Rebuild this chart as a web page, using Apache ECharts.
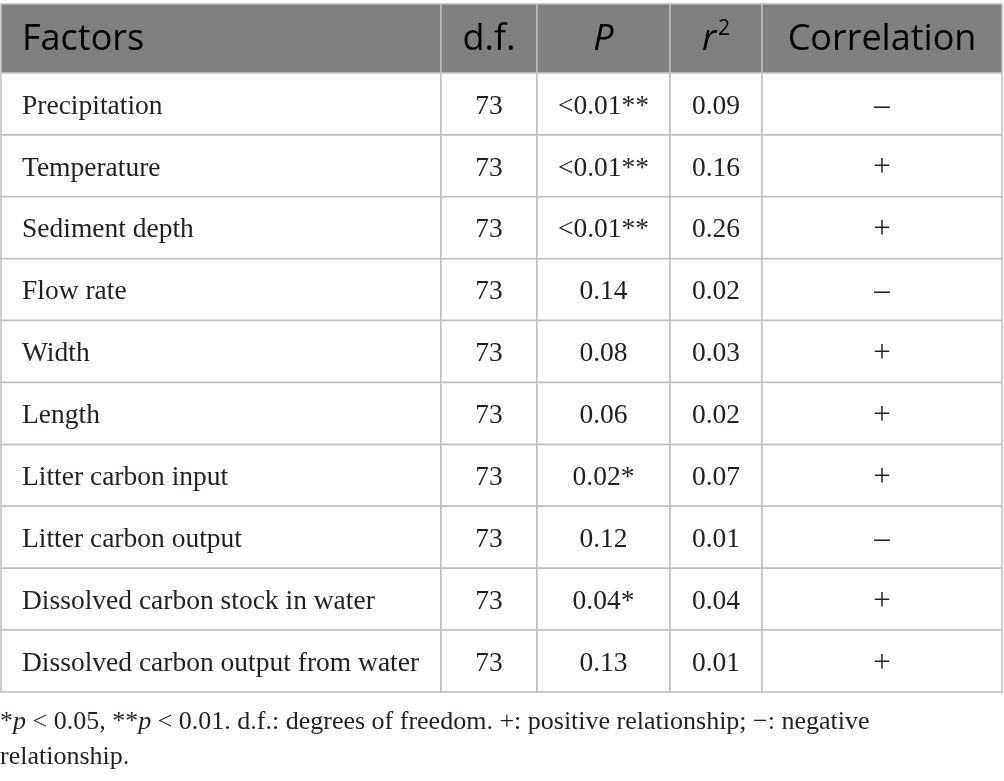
<!DOCTYPE html>
<html>
<head>
<meta charset="utf-8">
<script src="https://cdn.jsdelivr.net/npm/echarts@6/dist/echarts.min.js"></script>
<style>
  html, body { margin: 0; padding: 0; background: #fff; }
  #chart { width: 1004px; height: 781px; }
</style>
</head>
<body>
<div id="chart"></div>
<script>
// table data
const headers = ['Factors', 'd.f.', 'P', 'r2', 'Correlation']
const factors = [
  'Precipitation', 'Temperature', 'Sediment depth', 'Flow rate', 'Width',
  'Length', 'Litter carbon input', 'Litter carbon output',
  'Dissolved carbon stock in water', 'Dissolved carbon output from water'
]
const dfValues = [73, 73, 73, 73, 73, 73, 73, 73, 73, 73]
const pValues = ['<0.01**', '<0.01**', '<0.01**', '0.14', '0.08', '0.06', '0.02*', '0.12', '0.04*', '0.13']
const r2Values = [0.09, 0.16, 0.26, 0.02, 0.03, 0.02, 0.07, 0.01, 0.04, 0.01]
const correlation = ['–', '+', '+', '–', '+', '+', '+', '–', '+', '+']

// column boundaries along the x axis
const colEdges = [0, 440, 536, 669, 761, 1001]

const LINE = '#bfbfbf'
const HEAD_BG = '#808080'
const INK = '#231f20'
const SERIF = '"Liberation Serif", "DejaVu Serif", serif'
const SANS = '"Open Sans", Lato, sans-serif'

function cellText(c, r) {
  if (c === 0) return factors[r]
  if (c === 1) return String(dfValues[r])
  if (c === 2) return pValues[r]
  if (c === 3) return r2Values[r].toFixed(2)
  return correlation[r]
}

function headText(c) {
  if (c === 2) return '{i|P}'
  if (c === 3) return '{i|r}{s|2}'
  return '{n|' + headers[c] + '}'
}

function cellRect(api, c, r) {
  const x0 = api.coord([colEdges[c], r])[0]
  const x1 = api.coord([colEdges[c + 1], r])[0]
  const cy = api.coord([0, r])[1]
  const h = api.size([0, 1])[1]
  return { x0, x1, cy, h }
}

const bodyData = []
factors.forEach((f, r) => {
  headers.forEach((h, c) => bodyData.push([c, r]))
})
const headData = headers.map((h, c) => [c, 0])

let option = {
  animation: false,
  backgroundColor: '#fff',
  grid: [
    { left: 1, right: 2, top: 4, height: 69 },
    { left: 1, right: 2, top: 73, bottom: 89 }
  ],
  xAxis: [
    { type: 'value', gridIndex: 0, min: 0, max: 1001, show: false },
    { type: 'value', gridIndex: 1, min: 0, max: 1001, show: false }
  ],
  yAxis: [
    { type: 'category', gridIndex: 0, data: ['head'], show: false },
    { type: 'category', gridIndex: 1, data: factors, inverse: true, show: false }
  ],
  title: {
    left: 0,
    top: 705,
    padding: 0,
    text: '{n|*}{i|p}{n| < 0.05, **}{i|p}{n| < 0.01. d.f.: degrees of freedom. +: positive relationship; −: negative}\n{n|relationship.}',
    textStyle: {
      fontWeight: 'normal',
      rich: {
        n: { fontFamily: SERIF, fontSize: 26, fontWeight: 'normal', color: INK, lineHeight: 35 },
        i: { fontFamily: SERIF, fontSize: 26, fontWeight: 'normal', color: INK, fontStyle: 'italic', lineHeight: 35 }
      }
    }
  },
  series: [
    {
      type: 'custom',
      xAxisIndex: 0,
      yAxisIndex: 0,
      data: headData,
      renderItem: function (params, api) {
        const c = api.value(0)
        const b = cellRect(api, c, 0)
        return {
          type: 'group',
          children: [
            {
              type: 'rect',
              shape: { x: b.x0, y: b.cy - b.h / 2, width: b.x1 - b.x0, height: b.h },
              style: { fill: HEAD_BG, stroke: LINE, lineWidth: 1.5 }
            },
            {
              type: 'text',
              style: {
                text: headText(c),
                x: c === 0 ? b.x0 + 21 : (b.x0 + b.x1) / 2,
                y: b.cy + 1,
                align: c === 0 ? 'left' : 'center',
                verticalAlign: 'middle',
                rich: {
                  n: { fontFamily: SANS, fontSize: 36, color: '#fff', lineHeight: 42 },
                  i: { fontFamily: SANS, fontSize: 36, color: '#fff', fontStyle: 'italic', lineHeight: 42 },
                  s: { fontFamily: SANS, fontSize: 21, color: '#fff', lineHeight: 42, verticalAlign: 'top', padding: [0, 0, 16, 2] }
                }
              }
            }
          ]
        }
      }
    },
    {
      type: 'custom',
      xAxisIndex: 1,
      yAxisIndex: 1,
      data: bodyData,
      renderItem: function (params, api) {
        const c = api.value(0)
        const r = api.value(1)
        const b = cellRect(api, c, r)
        return {
          type: 'group',
          children: [
            {
              type: 'rect',
              shape: { x: b.x0, y: b.cy - b.h / 2, width: b.x1 - b.x0, height: b.h },
              style: { fill: '#fff', stroke: LINE, lineWidth: 1.5 }
            },
            {
              type: 'text',
              style: {
                text: cellText(c, r),
                x: c === 0 ? b.x0 + 21 : (b.x0 + b.x1) / 2,
                y: b.cy + 2.5,
                align: c === 0 ? 'left' : 'center',
                verticalAlign: 'middle',
                fill: INK,
                fontFamily: SERIF,
                fontSize: c === 4 ? 31 : 27.5
              }
            }
          ]
        }
      }
    }
  ]
}

let myChart = echarts.init(document.getElementById('chart'))
myChart.setOption(option)
</script>
</body>
</html>
